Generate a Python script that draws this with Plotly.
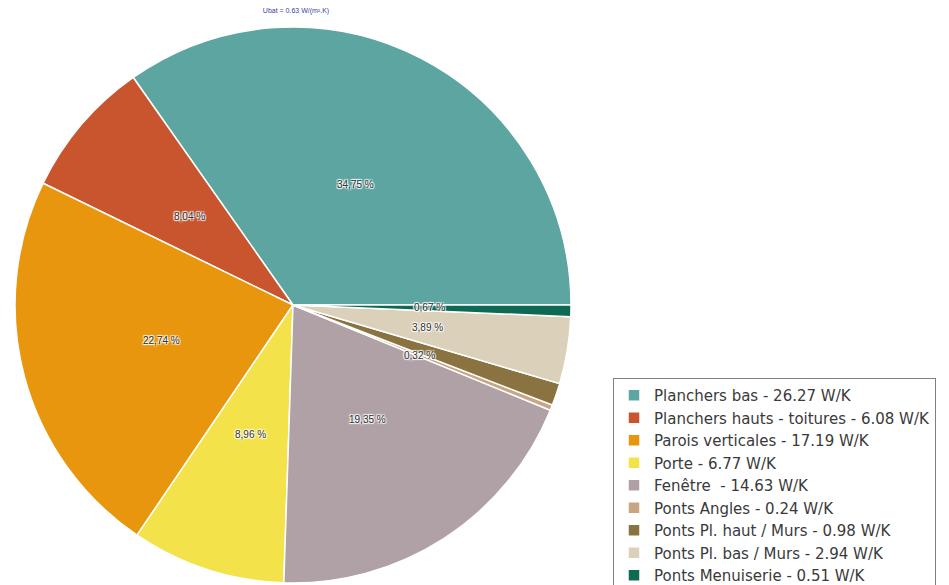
import math
import plotly.graph_objects as go

# ---- data ----
categories = [
    "Planchers bas - 26.27 W/K",
    "Planchers hauts - toitures - 6.08 W/K",
    "Parois verticales - 17.19 W/K",
    "Porte - 6.77 W/K",
    "Fenêtre  - 14.63 W/K",
    "Ponts Angles - 0.24 W/K",
    "Ponts Pl. haut / Murs - 0.98 W/K",
    "Ponts Pl. bas / Murs - 2.94 W/K",
    "Ponts Menuiserie - 0.51 W/K",
]
values = [26.27, 6.08, 17.19, 6.77, 14.63, 0.24, 0.98, 2.94, 0.51]
slice_labels = ["34,75 %", "8,04 %", "22,74 %", "8,96 %", "19,35 %", "0,32 %", "", "3,89 %", "0,67 %"]
colors = ["#5ca5a1", "#c9552f", "#e8960d", "#f3e24a", "#b0a1a7",
          "#c8a585", "#8a7341", "#dbd1bb", "#0e6a52"]
title_text = "Ubat = 0.63 W/(m².K)"

# ---- geometry ----
OFF = 8                      # default body margin of the html page
W, H = 949 - OFF, 585 - OFF  # figure size so it exactly fills the window


def px_x(x):   # page pixel -> paper x
    return (x - OFF) / W


def px_y(y):   # page pixel -> paper y
    return 1 - (y - OFF) / H


cx, cy, R = 293, 305, 278    # pie centre / radius in page pixels

total = sum(values)
# in counterclockwise mode plotly ends the first slice at `rotation`;
# we want it to start at 3 o'clock and go counterclockwise
rotation = 90 - 360 * values[0] / total

fig = go.Figure()
fig.add_trace(go.Pie(
    labels=categories,
    values=values,
    sort=False,
    direction="counterclockwise",
    rotation=rotation,
    marker=dict(colors=colors, line=dict(color="white", width=1.5)),
    textinfo="none",
    hoverinfo="label+percent",
    domain=dict(x=[px_x(cx - R), px_x(cx + R)], y=[px_y(cy + R), px_y(cy - R)]),
))

# percentage labels placed at slice mid-angles, computed from the data
cum = 0.0
shadow = "1px 1px 1px white, -1px -1px 1px white, 1px -1px 1px white, -1px 1px 1px white"
for v, lab in zip(values, slice_labels):
    mid = (cum + v / 2) / total * 2 * math.pi
    cum += v
    if not lab:
        continue
    r = 0.49 * R
    fig.add_annotation(
        x=px_x(cx + r * math.cos(mid)), y=px_y(cy - r * math.sin(mid)),
        xref="paper", yref="paper", xanchor="center", yanchor="middle",
        text=lab, showarrow=False,
        font=dict(family="Liberation Sans, Arial", size=10, color="#333333", shadow=shadow),
    )

fig.update_layout(
    width=W, height=H,
    margin=dict(l=0, r=0, t=0, b=0, autoexpand=False),
    paper_bgcolor="white",
    plot_bgcolor="white",
    title=dict(text=title_text, x=px_x(296), y=px_y(11), xanchor="center", yanchor="middle",
               font=dict(family="Liberation Sans, Arial", size=7, color="#3b3fa0")),
    showlegend=True,
    legend=dict(
        x=px_x(613), y=px_y(378), xanchor="left", yanchor="top",
        bgcolor="white", bordercolor="#7f7f7f", borderwidth=1,
        font=dict(family="DejaVu Sans", size=15, color="#3a3a3a"),
        itemclick=False,
    ),
)

fig.write_html("out.html")
